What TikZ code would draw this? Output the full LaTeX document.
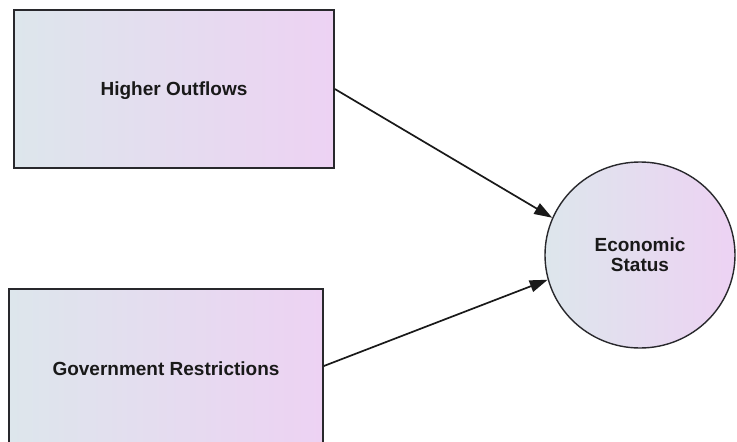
\documentclass[tikz,border=0pt]{standalone}
\usepackage{fontspec}
\setmainfont{Liberation Sans}
\usetikzlibrary{arrows.meta,shapes.geometric}
\definecolor{shadeL}{RGB}{221,230,236}
\definecolor{shadeR}{RGB}{237,210,243}
\definecolor{edge}{RGB}{40,40,44}
\tikzset{
  factor/.style={draw=edge, line width=1.7pt, left color=shadeL, right color=shadeR,
    font=\fontsize{19}{22}\selectfont\bfseries, text=black!90,
    inner sep=0pt, minimum width=#1},
  outcome/.style={draw=edge, line width=1.4pt, ellipse, left color=shadeL, right color=shadeR,
    font=\fontsize{19}{22}\selectfont\bfseries, text=black!90, align=center,
    inner sep=0pt, minimum width=190pt, minimum height=186pt},
  link/.style={draw=black!90, line width=1.7pt, -{Triangle[length=18pt,width=12pt]}}
}
\begin{document}
\begin{tikzpicture}[x=1pt,y=-1pt]
  \useasboundingbox (0,0) rectangle (737,442);
  \clip (0,0) rectangle (737,442);
  % source factors
  \node[factor=320pt, minimum height=158pt, text depth=-2pt] (outflows) at (174,89) {Higher Outflows};
  \node[factor=314pt, minimum height=160pt] (restrict) at (166,369) {Government Restrictions};
  % outcome
  \node[outcome] (status) at (640,255) {Economic\\[-2pt]Status};
  % effects
  \draw[link] (outflows.east |- 0,89) -- (status.157);
  \draw[link] (restrict.east |- 0,366) -- (status.195);
\end{tikzpicture}
\end{document}
